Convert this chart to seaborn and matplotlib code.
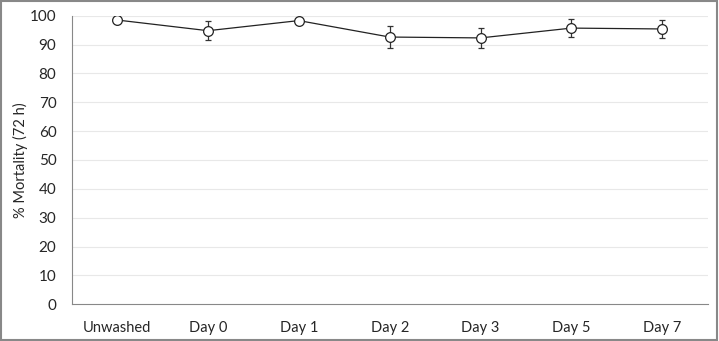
import numpy as np
import pandas as pd
import matplotlib
matplotlib.use("Agg")
import matplotlib.pyplot as plt
import seaborn as sns

# Data
groups = ["Unwashed", "Day 0", "Day 1", "Day 2", "Day 3", "Day 5", "Day 7"]
mortality = [98.5, 94.8, 98.3, 92.6, 92.3, 95.7, 95.4]
err = [1.0, 3.2, 1.0, 3.7, 3.6, 3.0, 3.0]

df = pd.DataFrame({"group": groups, "mortality": mortality, "err": err})
df["pos"] = np.arange(len(groups))

sns.set_style("white")
plt.rcParams["font.family"] = ["Lato", "DejaVu Sans"]

fig = plt.figure(figsize=(7.19, 3.41), dpi=100)
ax = fig.add_axes([0.0997, 0.1076, 0.8846, 0.8464])

for y in range(10, 101, 10):
    ax.axhline(y, color="#e8e8e8", lw=0.8, zorder=0)

ax.errorbar(df["pos"], df["mortality"], yerr=df["err"], fmt="none",
            ecolor="#333333", elinewidth=0.9, capsize=2, capthick=0.9, zorder=2)
sns.lineplot(data=df, x="pos", y="mortality", ax=ax, color="#222222", lw=0.9,
             marker="o", markersize=7, markerfacecolor="white",
             markeredgecolor="#222222", markeredgewidth=0.9, zorder=3)

ax.set_xlim(-0.5, len(groups) - 0.5)
ax.set_ylim(0, 100)
ax.set_yticks(range(0, 101, 10))
ax.set_xticks(np.arange(len(groups)))
ax.set_xticklabels(groups)
ax.set_xticks(np.arange(-0.5, len(groups), 1), minor=True)
ax.tick_params(axis="x", which="major", length=0, pad=12, labelsize=10.5)
ax.tick_params(axis="x", which="minor", length=5, color="#888888", width=0.8)
ax.tick_params(axis="y", length=4, color="#888888", width=0.8, labelsize=11, pad=7)
ax.set_xlabel("")
ax.set_ylabel("% Mortality (72 h)", fontsize=10.5, labelpad=1)

for s in ["top", "right"]:
    ax.spines[s].set_visible(False)
for s in ["left", "bottom"]:
    ax.spines[s].set_color("#888888")
    ax.spines[s].set_linewidth(0.8)

fig.patches.append(plt.Rectangle((0.002, 0.004), 0.995, 0.993, transform=fig.transFigure,
                                 fill=False, edgecolor="#888888", lw=1.5))

fig.savefig("out.png", dpi=100)
